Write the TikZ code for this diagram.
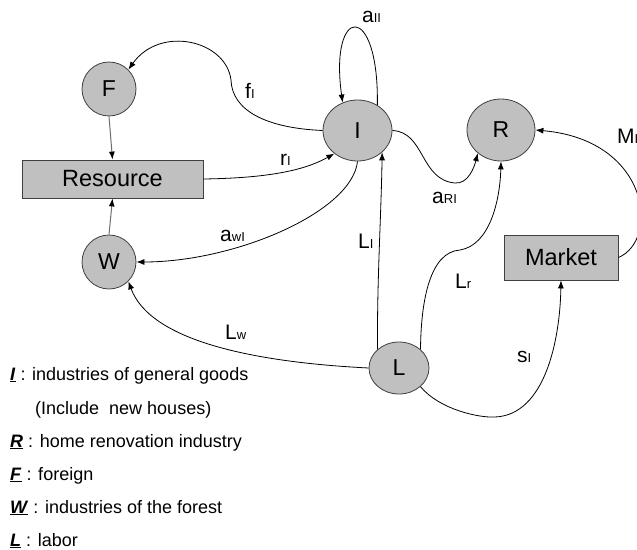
\documentclass[tikz,border=0pt]{standalone}
\usepackage{fontspec}
\setmainfont{Liberation Sans}
\usetikzlibrary{arrows.meta,shapes.geometric}
\definecolor{nodefill}{RGB}{192,192,192}
\definecolor{nodeline}{RGB}{64,64,64}
\definecolor{feedline}{RGB}{110,110,110}
\newcommand{\sublab}[2]{#1{\fontsize{13}{13}\selectfont #2}}
\newcommand{\legkey}[1]{\underline{\textbf{\textit{#1}}}}
\begin{document}
\begin{tikzpicture}[x=1pt,y=-1pt,
  circnode/.style={ellipse,draw=nodeline,fill=nodefill,line width=0.8pt,inner sep=0pt,font=\fontsize{23}{27}\selectfont},
  boxnode/.style={rectangle,draw=nodeline,fill=nodefill,line width=0.8pt,inner sep=0pt,font=\fontsize{23.5}{28}\selectfont},
  link/.style={line width=0.8pt,-{Latex[length=8pt,width=6pt]}},
  feed/.style={draw=feedline,line width=1pt,-{Latex[length=8pt,width=6pt,color=black]}},
  elab/.style={anchor=base west,inner sep=0pt,font=\fontsize{21}{24}\selectfont},
  legend/.style={anchor=base west,inner sep=0pt,font=\fontsize{18}{20}\selectfont}]
\useasboundingbox (0,0) rectangle (637,549);
\fill[white] (0,0) rectangle (637,549);

% nodes
\node[circnode,minimum width=54pt,minimum height=54pt] (F) at (109,89) {F};
\node[circnode,minimum width=54pt,minimum height=54pt] (W) at (109,262) {W};
\node[circnode,minimum width=69pt,minimum height=61pt] (I) at (357.5,130.5) {I};
\node[circnode,minimum width=68pt,minimum height=62pt] (R) at (501,130) {R};
\node[circnode,minimum width=60pt,minimum height=52pt] (L) at (399,368) {L};
\node[boxnode,minimum width=181pt,minimum height=38pt] (Res) at (112.5,179) {Resource};
\node[boxnode,minimum width=114pt,minimum height=45pt] (Mkt) at (561,257.5) {Market};

% connectors
\draw[feed] (F.south) -- (Res.north);
\draw[feed] (W.north) -- (Res.south);
\draw[link] (I.west) .. controls (265,128) and (232,110) .. (231,80)
            .. controls (226,40) and (160,25) .. (F.45);
\draw[link] (Res.east) .. controls (270,178) and (305,170) .. (I.225);
\draw[link] (I.south) .. controls (352,212) and (235,262) .. (W.east);
\draw[link] (I.52) .. controls (379,0) and (329,5) .. (I.118);
\draw[link] (I.east) .. controls (425,132) and (420,180) .. (455,183)
            .. controls (468,184) and (474,168) .. (R.225);
\draw[link] (Mkt.east) .. controls (660,240) and (650,140) .. (R.east);
\draw[link] (L.north west) .. controls (377,280) and (381,220) .. (I.south east);
\draw[link] (L.north east) .. controls (421,300) and (430,252) .. (460,250)
            .. controls (490,245) and (500,200) .. (R.south);
\draw[link] (L.west) .. controls (250,362) and (150,340) .. (W.south east);
\draw[link] (L.south east) .. controls (440,410) and (480,418) .. (495,417)
            .. controls (545,415) and (560,340) .. (Mkt.south);

% connector labels
\node[elab] (lAII) at (362,22) {\sublab{a}{II}};
\node[elab] (lFI) at (245,98) {\sublab{f}{I}};
\node[elab] (lRI) at (280,165) {\sublab{r}{I}};
\node[elab] (lAWI) at (220,241) {\sublab{a}{wI}};
\node[elab] (lLI) at (358,248) {\sublab{L}{I}};
\node[elab] (lLW) at (225,339) {\sublab{L}{w}};
\node[elab] (lARI) at (432,203) {\sublab{a}{RI}};
\node[elab] (lLR) at (455,288) {\sublab{L}{r}};
\node[elab] (lMI) at (617,143) {\sublab{M}{I}};
\node[elab] (lSI) at (517,362) {\sublab{s}{I}};

% legend
\node[legend] (g1) at (10,380) {\legkey{I} : industries of general goods};
\node[legend] (g2) at (35,414) {(Include\ \ new houses)};
\node[legend] (g3) at (10,447) {\legkey{R} : home renovation industry};
\node[legend] (g4) at (10,480) {\legkey{F} : foreign};
\node[legend] (g5) at (10,513) {\legkey{W} : industries of the forest};
\node[legend] (g6) at (10,546) {\legkey{L} : labor};
\end{tikzpicture}
\end{document}
